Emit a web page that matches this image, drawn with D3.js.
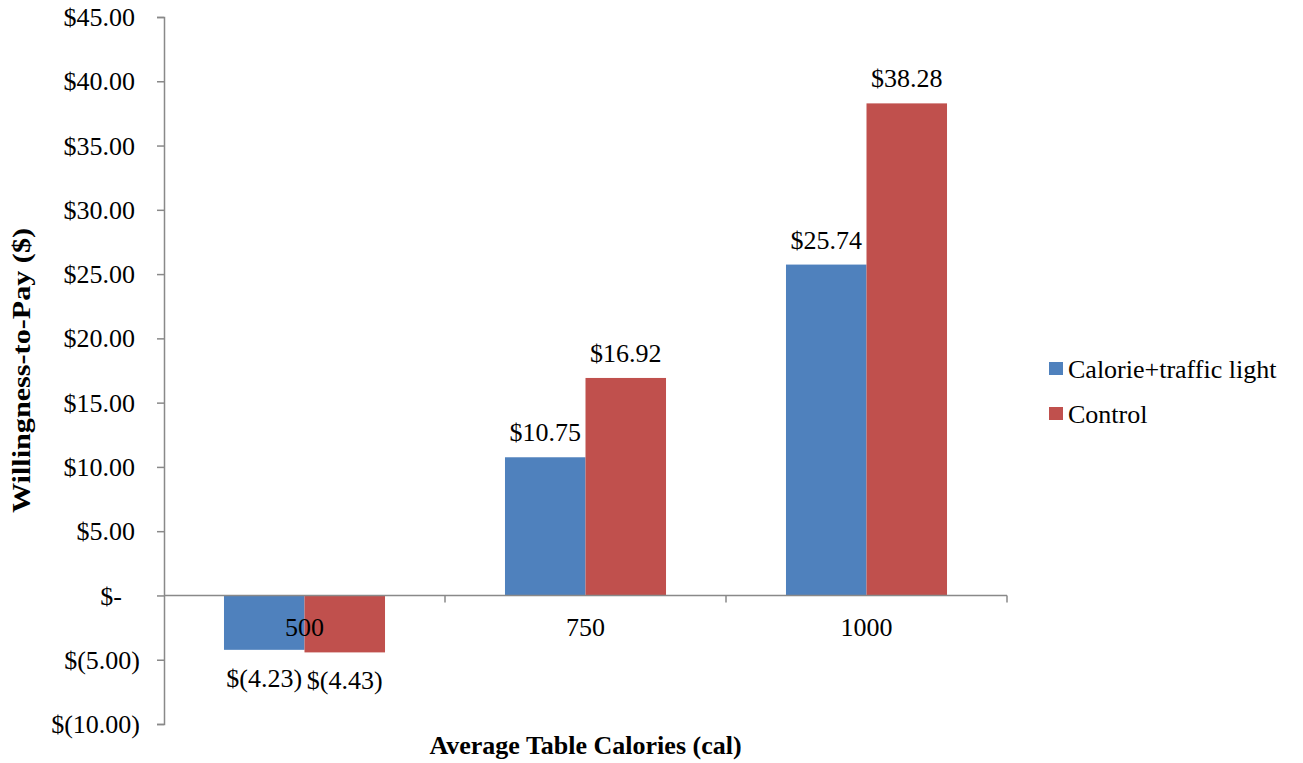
<!DOCTYPE html>
<html>
<head>
<meta charset="utf-8">
<script src="https://cdn.jsdelivr.net/npm/d3@7"></script>
<style>
  html, body { margin: 0; padding: 0; background: #fff; }
  svg { display: block; }
  text { font-family: "Liberation Serif", "Times New Roman", serif; fill: #000; }
</style>
</head>
<body>
<svg id="chart" width="1303" height="763"></svg>
<script>
// Willingness-to-pay by average table calories
const categories = ["500", "750", "1000"];
const seriesNames = ["Calorie+traffic light", "Control"];
const calorieTrafficLight = [-4.23, 10.75, 25.74];
const control = [-4.43, 16.92, 38.28];
const yTickValues = [-10, -5, 0, 5, 10, 15, 20, 25, 30, 35, 40, 45];
const seriesColors = ["#4F81BD", "#C0504D"];

const seriesValues = [calorieTrafficLight, control];
const rows = categories.map((c, i) => ({
  category: c,
  values: seriesNames.map((s, j) => ({ series: s, value: seriesValues[j][i], color: seriesColors[j] }))
}));

const svg = d3.select("#chart");
const FONT = 26;
const axisColor = "#898989";

const plot = { left: 164, right: 1007, top: 17, bottom: 724 };

const y = d3.scaleLinear().domain([-10, 45]).range([plot.bottom, plot.top]);
const x0 = d3.scaleBand().domain(categories).range([plot.left, plot.right]);
const x1 = d3.scaleBand().domain(seriesNames).range([0, x0.bandwidth()]).paddingInner(0).paddingOuter(0.745);

// Accounting-style dollar format
function money(v) {
  if (v === 0) return "$-";
  if (v < 0) return "$(" + Math.abs(v).toFixed(2) + ")";
  return "$" + v.toFixed(2);
}

// Bars
const groups = svg.append("g").selectAll("g")
  .data(rows).join("g")
  .attr("transform", d => `translate(${x0(d.category)},0)`);

groups.selectAll("rect")
  .data(d => d.values).join("rect")
  .attr("x", d => x1(d.series))
  .attr("width", x1.bandwidth())
  .attr("y", d => y(Math.max(0, d.value)))
  .attr("height", d => Math.abs(y(d.value) - y(0)))
  .attr("fill", d => d.color);

// Y axis
const yAxis = d3.axisLeft(y).tickValues(yTickValues).tickSize(7).tickFormat(money);
const gy = svg.append("g").attr("transform", `translate(${plot.left},0)`).call(yAxis);
gy.select(".domain").attr("stroke", axisColor).attr("stroke-width", 1.5);
gy.selectAll(".tick line").attr("stroke", axisColor).attr("stroke-width", 1.5);
gy.selectAll(".tick text")
  .attr("font-size", FONT)
  .attr("font-family", "Liberation Serif, Times New Roman, serif")
  .attr("fill", "#000")
  .attr("x", d => d === 0 ? -42 : (d < 0 ? -24 : -29))
  .attr("dy", "0.33em");

// X axis along zero
const gx = svg.append("g");
gx.append("line")
  .attr("x1", plot.left).attr("x2", plot.right)
  .attr("y1", y(0)).attr("y2", y(0))
  .attr("stroke", axisColor).attr("stroke-width", 1.5);
const boundaries = categories.map(c => x0(c)).concat([x0.range()[1]]);
gx.selectAll("line.tk").data(boundaries.slice(1)).join("line")
  .attr("class", "tk")
  .attr("x1", d => d).attr("x2", d => d)
  .attr("y1", y(0)).attr("y2", y(0) + 7)
  .attr("stroke", axisColor).attr("stroke-width", 1.5);

// Value labels
groups.selectAll("text.val")
  .data(d => d.values).join("text")
  .attr("class", "val")
  .attr("x", d => x1(d.series) + x1.bandwidth() / 2)
  .attr("y", d => d.value >= 0 ? y(d.value) - 16 : y(d.value) + 37)
  .attr("text-anchor", "middle")
  .attr("font-size", FONT)
  .text(d => money(d.value));

// Category labels
gx.selectAll("text.cat").data(categories).join("text")
  .attr("class", "cat")
  .attr("x", d => x0(d) + x0.bandwidth() / 2)
  .attr("y", y(0) + 41)
  .attr("text-anchor", "middle")
  .attr("font-size", FONT)
  .text(d => d);

// Axis titles
svg.append("text")
  .attr("x", (plot.left + plot.right) / 2)
  .attr("y", 754)
  .attr("text-anchor", "middle")
  .attr("font-size", FONT)
  .attr("font-weight", "bold")
  .text("Average Table Calories (cal)");

svg.append("text")
  .attr("transform", `translate(30,${(plot.top + plot.bottom) / 2}) rotate(-90)`)
  .attr("text-anchor", "middle")
  .attr("font-size", FONT)
  .attr("font-weight", "bold")
  .attr("textLength", 285)
  .attr("lengthAdjust", "spacingAndGlyphs")
  .text("Willingness-to-Pay ($)");

// Legend
const legend = svg.append("g").attr("transform", "translate(1049,362)");
const li = legend.selectAll("g").data(seriesNames).join("g")
  .attr("transform", (d, i) => `translate(0,${i * 45})`);
li.append("rect").attr("width", 14).attr("height", 13)
  .attr("fill", (d, i) => seriesColors[i]);
li.append("text").attr("x", 19).attr("y", 6.5).attr("dy", "0.35em")
  .attr("font-size", FONT)
  .text(d => d);
</script>
</body>
</html>
